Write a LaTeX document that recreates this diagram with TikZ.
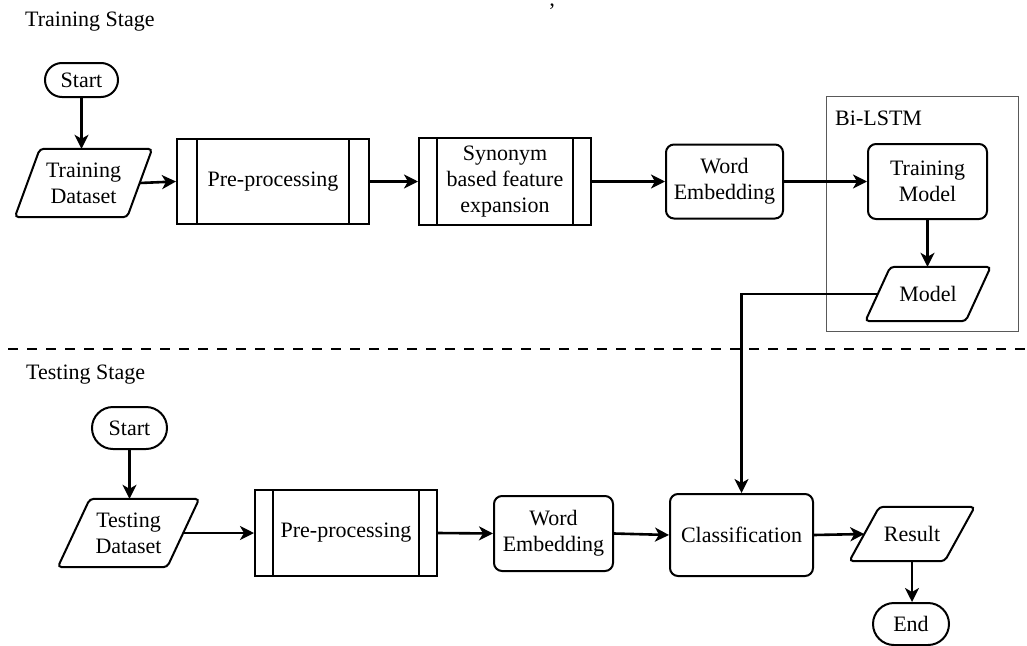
\documentclass[tikz,border=0pt]{standalone}
\usepackage{fontspec}
\setmainfont{LiberationSerif}[Extension=.ttf, UprightFont=*-Regular, BoldFont=*-Bold, ItalicFont=*-Italic, BoldItalicFont=*-BoldItalic]
\usetikzlibrary{arrows.meta}
\newcommand\diafont{\rmfamily\fontsize{22pt}{26pt}\selectfont}
\newcommand\drawpara[2]{\draw[line width=2pt, rounded corners=4pt]
  ([xshift=-#2/2]#1.south west) -- ([xshift=#2/2]#1.north west) --
  ([xshift=#2/2]#1.north east) -- ([xshift=-#2/2]#1.south east) -- cycle;}
\tikzset{
  box/.style={draw, line width=2pt, inner sep=0pt, align=center, font=\diafont},
  term/.style={box},
  proc/.style={box, rounded corners=8pt},
  pre/.style={box, path picture={\draw[line width=2pt]
     ([xshift=#1]path picture bounding box.north west) -- ([xshift=#1]path picture bounding box.south west)
     ([xshift=-#1]path picture bounding box.north east) -- ([xshift=-#1]path picture bounding box.south east);}},
  data/.style={inner sep=0pt, align=center, font=\diafont},
  conn/.style={line width=2.6pt, -{Stealth[length=14pt,width=14pt,inset=4pt]}},
  lbl/.style={inner sep=0pt, font=\diafont, anchor=west}
}
\begin{document}
\begin{tikzpicture}[x=1pt,y=-1pt]
\useasboundingbox (0,0) rectangle (1027,645);
% titles
\node[lbl] (t1) at (25,22) {Training Stage};
\node[inner sep=0pt, font=\diafont, anchor=base] (q) at (552,18) {’};
% training stage
\node[term, minimum width=73pt, minimum height=34pt, rounded corners=17pt] (s1) at (81.5,80) {Start};
\node[data, minimum width=112pt, minimum height=68pt] (td) at (83.5,183) {Training\\Dataset};
\drawpara{td}{25pt}
\node[pre=20pt, minimum width=192pt, minimum height=85pt] (pp1) at (273,181.5) {Pre-processing};
\node[pre=18pt, minimum width=172pt, minimum height=87pt] (syn) at (505,181.5) {Synonym\\based feature\\expansion};
\node[proc, minimum width=117pt, minimum height=74pt] (we1) at (724.5,181.5) {Word\\Embedding};
\node[draw=black!65, line width=1pt, minimum width=192pt, minimum height=235pt, inner sep=0pt] (bi) at (922,213.5) {};
\node[lbl] (bil) at (835,118) {Bi-LSTM};
\node[proc, minimum width=119pt, minimum height=75pt] (tm) at (927.5,181.5) {Training\\Model};
\node[data, minimum width=100pt, minimum height=54pt] (mo) at (928,294) {Model};
\drawpara{mo}{25pt}
% separator
\coordinate (d1) at (8,349);
\coordinate (d2) at (1027,349);
\draw[line width=2.6pt, dash pattern=on 10pt off 9pt] (d1) -- (d2);
% testing stage
\node[lbl] (t2) at (26,375) {Testing Stage};
\node[term, minimum width=75pt, minimum height=42pt, rounded corners=21pt] (s2) at (129.5,428) {Start};
\node[data, minimum width=109pt, minimum height=68pt] (ted) at (128.5,533) {Testing\\Dataset};
\drawpara{ted}{32pt}
\node[pre=18pt, minimum width=182pt, minimum height=86pt] (pp2) at (346,533) {Pre-processing};
\node[proc, minimum width=119pt, minimum height=75pt] (we2) at (553.5,533.5) {Word\\Embedding};
\node[proc, minimum width=143pt, minimum height=82pt] (cls) at (741.5,535) {Classification};
\node[data, minimum width=95pt, minimum height=54pt] (res) at (912,534) {Result};
\drawpara{res}{30pt}
\node[term, minimum width=76pt, minimum height=42pt, rounded corners=21pt] (end) at (911,624) {End};
% connectors
\draw[conn] (s1.south) -- (s1.south |- td.north);
\draw[conn] (td.east) -- (pp1.west);
\draw[conn] (pp1.east) -- (syn.west);
\draw[conn] (syn.east) -- (we1.west);
\draw[conn] (we1.east) -- (tm.west);
\draw[conn] (tm.south) -- (tm.south |- mo.north);
\draw[conn] (mo.west) -| (cls.north);
\draw[conn] (s2.south) -- (s2.south |- ted.north);
\draw[conn] (ted.east) -- (pp2.west);
\draw[conn] (pp2.east) -- (we2.west);
\draw[conn] (we2.east) -- (cls.west);
\draw[conn] (cls.east) -- (res.west);
\draw[conn] (res.south) -- (res.south |- end.north);
\end{tikzpicture}
\end{document}
